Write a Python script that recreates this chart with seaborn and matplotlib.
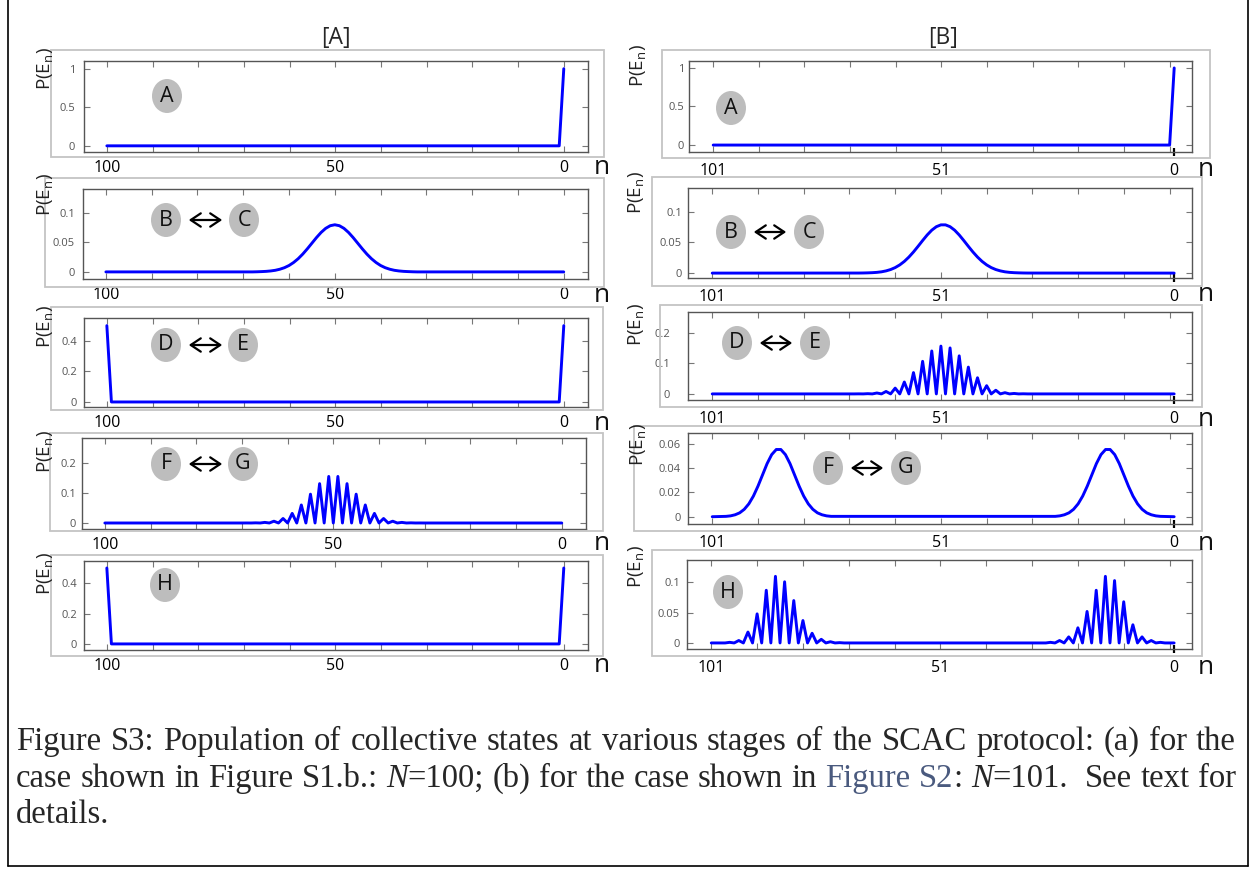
import numpy as np
import pandas as pd
import matplotlib
matplotlib.use("Agg")
import matplotlib.pyplot as plt
import seaborn as sns
from matplotlib.patches import Rectangle, Ellipse, FancyArrowPatch
from matplotlib.lines import Line2D

W, H = 1250, 869

# ---------------- data : column [A], N = 100 ----------------
a_left_n = [100, 1, 0]
a_left_p = [0, 0, 1]

bc_left_n = [100] + list(range(68, 31, -1)) + [0]
bc_left_p = [0,
             0, 0.0002, 0.0005, 0.0009, 0.0016, 0.0027, 0.0045, 0.0071, 0.0108, 0.0159,
             0.0223, 0.0301, 0.0390, 0.0485, 0.0580, 0.0666, 0.0735, 0.0780, 0.0796,
             0.0780, 0.0735, 0.0666, 0.0580, 0.0485, 0.0390, 0.0301, 0.0223, 0.0159,
             0.0108, 0.0071, 0.0045, 0.0027, 0.0016, 0.0009, 0.0005, 0.0002, 0,
             0]

de_left_n = [100, 99, 1, 0]
de_left_p = [0.5, 0, 0, 0.5]

fg_left_n = [100] + list(range(70, 29, -1)) + [0]
fg_left_p = [0,
             0, 0.0001, 0, 0.0005, 0, 0.002, 0, 0.006, 0, 0.015, 0, 0.032, 0, 0.060,
             0, 0.096, 0, 0.131, 0, 0.155, 0, 0.155, 0, 0.131, 0, 0.096, 0, 0.060,
             0, 0.032, 0, 0.015, 0, 0.006, 0, 0.002, 0, 0.0005, 0, 0.0001, 0,
             0]

h_left_n = [100, 99, 1, 0]
h_left_p = [0.5, 0, 0, 0.5]

# ---------------- data : column [B], N = 101 ----------------
a_right_n = [101, 1, 0]
a_right_p = [0, 0, 1]

bc_right_n = [101] + list(range(69, 31, -1)) + [0]
bc_right_p = [0,
              0.0001, 0.0002, 0.0004, 0.0007, 0.0012, 0.0021, 0.0036, 0.0058, 0.0090,
              0.0134, 0.0191, 0.0262, 0.0345, 0.0437, 0.0532, 0.0623, 0.0701, 0.0758,
              0.0788, 0.0788, 0.0758, 0.0701, 0.0623, 0.0532, 0.0437, 0.0345, 0.0262,
              0.0191, 0.0134, 0.0090, 0.0058, 0.0036, 0.0021, 0.0012, 0.0007, 0.0004,
              0.0002, 0.0001,
              0]

de_right_n = [101] + list(range(70, 31, -1)) + [0]
de_right_p = [0,
              0, 0.0002, 0, 0.0008, 0, 0.003, 0, 0.008, 0, 0.019, 0, 0.039, 0, 0.070,
              0, 0.107, 0, 0.141, 0, 0.157, 0, 0.151, 0, 0.125, 0, 0.088, 0, 0.053,
              0, 0.027, 0, 0.012, 0, 0.004, 0, 0.0015, 0, 0.0004, 0,
              0]

fg_right_n = [101] + list(range(98, 74, -1)) + list(range(26, 2, -1)) + [0]
fg_right_p = [0,
              0.0003, 0.0007, 0.0016, 0.0032, 0.0061, 0.0106, 0.0170, 0.0252, 0.0345,
              0.0438, 0.0512, 0.0554, 0.0554, 0.0512, 0.0438, 0.0345, 0.0252, 0.0170,
              0.0106, 0.0061, 0.0032, 0.0016, 0.0007, 0.0003,
              0.0003, 0.0007, 0.0016, 0.0032, 0.0061, 0.0106, 0.0170, 0.0252, 0.0345,
              0.0438, 0.0512, 0.0554, 0.0554, 0.0512, 0.0438, 0.0345, 0.0252, 0.0170,
              0.0106, 0.0061, 0.0032, 0.0016, 0.0007, 0.0003,
              0]

h_right_n = [101] + list(range(98, 71, -1)) + list(range(28, 1, -1)) + [0]
h_right_p = [0,
             0, 0.001, 0, 0.004, 0, 0.018, 0, 0.048, 0, 0.087, 0, 0.110, 0, 0.101,
             0, 0.070, 0, 0.037, 0, 0.016, 0, 0.006, 0, 0.002, 0, 0.0005, 0,
             0, 0.001, 0, 0.004, 0, 0.010, 0, 0.025, 0, 0.052, 0, 0.087, 0, 0.110,
             0, 0.103, 0, 0.068, 0, 0.030, 0, 0.010, 0, 0.004, 0, 0.001, 0,
             0]

left_xticks = [100, 90, 80, 70, 60, 50, 40, 30, 20, 10, 0]
left_xlabels = {100: "100", 50: "50", 0: "0"}
right_xticks = [101, 91, 81, 71, 61, 51, 41, 31, 21, 11, 1]
right_xlabels = {101: "101", 51: "51"}

column_titles = ["[A]", "[B]"]
ylabel_text = r"P(E$_{\mathregular{n}}$)"

caption_lines = [
    [("Figure", {}, 0), ("S3:", {}, 1), ("Population", {}, 1), ("of", {}, 1),
     ("collective", {}, 1), ("states", {}, 1), ("at", {}, 1), ("various", {}, 1),
     ("stages", {}, 1), ("of", {}, 1), ("the", {}, 1), ("SCAC", {}, 1),
     ("protocol:", {}, 1), ("(a)", {}, 1), ("for", {}, 1), ("the", {}, 1)],
    [("case", {}, 0), ("shown", {}, 1), ("in", {}, 1), ("Figure", {}, 1),
     ("S1.b.:", {}, 1), ("N", {"style": "italic"}, 1), ("=100;", {}, 0),
     ("(b)", {}, 1), ("for", {}, 1), ("the", {}, 1), ("case", {}, 1),
     ("shown", {}, 1), ("in", {}, 1), ("Figure", {"color": "#4a5a7e"}, 1),
     ("S2", {"color": "#4a5a7e"}, 1), (":", {}, 0), ("N", {"style": "italic"}, 1),
     ("=101.", {}, 0), ("See", {}, 2), ("text", {}, 1), ("for", {}, 1)],
    [("details.", {}, 0)],
]

# ---------------- style ----------------
sns.set_style("white")
plt.rcParams["font.family"] = ["Open Sans", "DejaVu Sans"]
plt.rcParams["mathtext.fontset"] = "custom"
plt.rcParams["mathtext.rm"] = "Open Sans"

fig = plt.figure(figsize=(W / 100, H / 100), dpi=100)
fig.patch.set_facecolor("white")


def fx(x):
    return x / W


def fy(y):
    return 1 - y / H


panels = [
    # left column
    dict(n=a_left_n, p=a_left_p, side="L", inner=(84, 61, 588, 152), outer=(51, 50, 604, 157),
         ylim=(-0.08, 1.10), yt=[0, 0.5, 1], ypad=6.5, ylab=(46, 69), nlab=(602, 167),
         letters=[("A", 167, 96)], arrows=[]),
    dict(n=bc_left_n, p=bc_left_p, side="L", inner=(83, 189, 588, 279), outer=(45, 178, 604, 287),
         ylim=(-0.012, 0.14), yt=[0, 0.05, 0.1], ypad=5.8, ylab=(46, 195), nlab=(602, 296),
         letters=[("B", 166, 220), ("C", 244, 220)], arrows=[(186, 225, 220)]),
    dict(n=de_left_n, p=de_left_p, side="L", inner=(84, 318, 588, 407), outer=(51, 307, 603, 410),
         ylim=(-0.033, 0.55), yt=[0, 0.2, 0.4], ypad=5, ylab=(46, 327), nlab=(602, 423),
         letters=[("D", 166, 345), ("E", 243, 345)], arrows=[(186, 225, 345)]),
    dict(n=fg_left_n, p=fg_left_p, side="L", inner=(82, 438, 586, 529), outer=(50, 433, 603, 531),
         ylim=(-0.02, 0.283), yt=[0, 0.1, 0.2], ypad=4.3, ylab=(46, 452), nlab=(602, 544),
         letters=[("F", 166, 464), ("G", 243, 464)], arrows=[(186, 225, 464)]),
    dict(n=h_left_n, p=h_left_p, side="L", inner=(84, 561, 588, 650), outer=(51, 555, 603, 656),
         ylim=(-0.04, 0.546), yt=[0, 0.2, 0.4], ypad=5, ylab=(46, 574), nlab=(602, 665),
         letters=[("H", 165, 585)], arrows=[]),
    # right column
    dict(n=a_right_n, p=a_right_p, side="R", inner=(689, 61, 1192, 152), outer=(662, 50, 1210, 158),
         ylim=(-0.09, 1.09), yt=[0, 0.5, 1], ypad=3.6, ylab=(639, 66), nlab=(1206, 170),
         letters=[("A", 731, 108)], arrows=[]),
    dict(n=bc_right_n, p=bc_right_p, side="R", inner=(688, 188, 1192, 278), outer=(652, 177, 1202, 286),
         ylim=(-0.008, 0.139), yt=[0, 0.05, 0.1], ypad=4.3, ylab=(637, 193), nlab=(1206, 295),
         letters=[("B", 731, 232), ("C", 809, 232)], arrows=[(751, 789, 232)]),
    dict(n=de_right_n, p=de_right_p, side="R", inner=(688, 312, 1192, 400), outer=(660, 305, 1202, 407),
         ylim=(-0.02, 0.269), yt=[0, 0.1, 0.2], ypad=13, ylab=(637, 325), nlab=(1206, 419),
         letters=[("D", 737, 343), ("E", 815, 343)], arrows=[(757, 795, 343)]),
    dict(n=fg_right_n, p=fg_right_p, side="R", inner=(688, 433, 1192, 524), outer=(634, 426, 1202, 531),
         ylim=(-0.006, 0.069), yt=[0, 0.02, 0.04, 0.06], ypad=5, ylab=(639, 445), nlab=(1206, 544),
         letters=[("F", 828, 468), ("G", 906, 468)], arrows=[(848, 886, 468)]),
    dict(n=h_right_n, p=h_right_p, side="R", inner=(687, 560, 1192, 649), outer=(652, 550, 1202, 656),
         ylim=(-0.01, 0.137), yt=[0, 0.05, 0.1], ypad=5, ylab=(637, 567), nlab=(1206, 667),
         letters=[("H", 728, 592)], arrows=[]),
]

for sp in panels:
    x0, y0, x1, y1 = sp["inner"]
    ax = fig.add_axes([fx(x0), fy(y1), (x1 - x0) / W, (y1 - y0) / H])
    df = pd.DataFrame({"n": sp["n"], "p": sp["p"]})
    sns.lineplot(data=df, x="n", y="p", ax=ax, color="#0000ff", linewidth=2.1,
                 estimator=None, sort=False)
    ax.set_xlabel("")
    ax.set_ylabel("")
    ax.set_facecolor("white")
    for s in ax.spines.values():
        s.set_color("#555555")
        s.set_linewidth(1.0)
    if sp["side"] == "L":
        ax.set_xlim(105, -5.3)
        ax.set_xticks(left_xticks)
        ax.set_xticklabels([left_xlabels.get(t, "") for t in left_xticks])
        xpad = 6
    else:
        ax.set_xlim(106.3, -3.9)
        ax.set_xticks(right_xticks)
        ax.set_xticklabels([right_xlabels.get(t, "") for t in right_xticks])
        ax.set_xticks([0], minor=True)
        ax.set_xticklabels(["0"], minor=True)
        xpad = 8
        ax.tick_params(axis="x", which="minor", direction="inout", length=6, width=1.6,
                       color="black", top=False, bottom=True, labelsize=11.5,
                       labelcolor="black", pad=xpad - 3)
    ax.tick_params(axis="x", which="major", direction="in", length=4, width=0.8,
                   color="#777777", top=True, bottom=True, labelsize=11.5,
                   labelcolor="black", pad=xpad)
    ax.set_ylim(*sp["ylim"])
    ax.set_yticks(sp["yt"])
    ax.set_yticklabels([f"{v:g}" for v in sp["yt"]])
    ax.tick_params(axis="y", direction="in", length=4, width=0.8, color="#777777",
                   left=True, right=True, labelsize=8, labelcolor="#555555",
                   pad=sp["ypad"])

    ox0, oy0, ox1, oy1 = sp["outer"]
    fig.add_artist(Rectangle((fx(ox0), fy(oy1)), (ox1 - ox0) / W, (oy1 - oy0) / H,
                             transform=fig.transFigure, fill=False,
                             edgecolor="#c4c4c4", linewidth=1.3))
    fig.text(fx(sp["ylab"][0]), fy(sp["ylab"][1]), ylabel_text, rotation=90,
             ha="center", va="center", fontsize=13.5, color="#222222")
    fig.text(fx(sp["nlab"][0]), fy(sp["nlab"][1]), "n", ha="center", va="center",
             fontsize=19, color="#111111")
    for letter, cx, cy in sp["letters"]:
        fig.add_artist(Ellipse((fx(cx), fy(cy)), 30 / W, 34 / H, transform=fig.transFigure,
                               facecolor="#bdbdbd", edgecolor="none", zorder=5))
        fig.text(fx(cx), fy(cy), letter, ha="center", va="center", fontsize=15.5,
                 color="#111111", zorder=6)
    for ax0, ax1, ay in sp["arrows"]:
        fig.add_artist(FancyArrowPatch((fx(ax0), fy(ay)), (fx(ax1), fy(ay)),
                                       transform=fig.transFigure,
                                       arrowstyle="<->,head_length=0.45,head_width=0.3",
                                       mutation_scale=16, linewidth=1.6, color="black",
                                       zorder=6))

fig.text(fx(336), fy(38), column_titles[0], ha="center", va="center", fontsize=16.5)
fig.text(fx(943), fy(38), column_titles[1], ha="center", va="center", fontsize=16.5)

# page frame
fig.add_artist(Line2D([fx(8), fx(8)], [fy(-5), fy(866)], transform=fig.transFigure,
                      color="black", linewidth=1.2))
fig.add_artist(Line2D([fx(8), fx(1248)], [fy(866), fy(866)], transform=fig.transFigure,
                      color="black", linewidth=1.2))
fig.add_artist(Line2D([fx(1248), fx(1248)], [fy(-5), fy(866)], transform=fig.transFigure,
                      color="black", linewidth=1.2))

# caption (justified)
renderer = fig.canvas.get_renderer()
cap_family = ["Liberation Serif", "DejaVu Serif"]
cap_size = 23.5
cap_x0, cap_x1 = 16, 1236
cap_baselines = [750, 787, 823]


def place_line(tokens, base_y, justify):
    items = []
    for txt, style, gap in tokens:
        t = fig.text(0, 0, txt, ha="left", va="baseline", family=cap_family,
                     fontsize=cap_size, **style)
        w = t.get_window_extent(renderer).width
        items.append((t, w, gap))
    total = sum(w for _, w, _ in items)
    ngaps = sum(g for _, _, g in items)
    if justify and ngaps:
        unit = (cap_x1 - cap_x0 - total) / ngaps
    else:
        unit = cap_size * 1.389 * 0.25
    x = cap_x0
    for t, w, g in items:
        x += g * unit
        t.set_position((fx(x), fy(base_y)))
        x += w


for i, toks in enumerate(caption_lines):
    place_line(toks, cap_baselines[i], justify=(i < 2))

fig.savefig("out.png", dpi=100, facecolor="white")
